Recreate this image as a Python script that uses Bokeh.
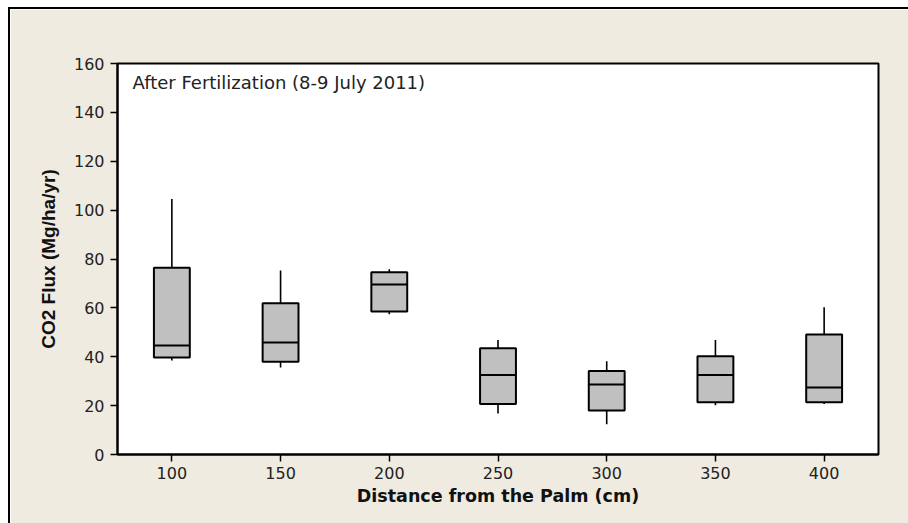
from bokeh.plotting import figure
from bokeh.layouts import column, row
from bokeh.models import Spacer, FixedTicker, Range1d, Label, ColumnDataSource
from bokeh.embed import file_html
from bokeh.resources import INLINE

# ---- data ----
distances = [100, 150, 200, 250, 300, 350, 400]
whisker_low = [38.5, 35.6, 57.4, 16.8, 12.4, 20.2, 20.7]
q1 = [39.7, 38.0, 58.5, 20.7, 18.0, 21.4, 21.4]
median = [44.6, 45.8, 69.6, 32.5, 28.6, 32.5, 27.4]
q3 = [76.4, 61.9, 74.6, 43.5, 34.2, 40.2, 49.1]
whisker_high = [104.6, 75.3, 75.8, 46.9, 38.2, 46.9, 60.3]
x_ticks = [100, 150, 200, 250, 300, 350, 400]
y_ticks = [0, 20, 40, 60, 80, 100, 120, 140, 160]
title_text = "After Fertilization (8-9 July 2011)"
x_label = "Distance from the Palm (cm)"
y_label = "CO2 Flux (Mg/ha/yr)"

BG = "#EFEBE1"
BOX_W = 16.5

src = ColumnDataSource(dict(
    x=distances, lo=whisker_low, q1=q1, med=median, q3=q3, hi=whisker_high,
    mx0=[d - BOX_W / 2 for d in distances], mx1=[d + BOX_W / 2 for d in distances],
))

p = figure(width=898, height=514, output_backend="svg", toolbar_location=None,
           x_range=Range1d(75, 425), y_range=Range1d(0, 160),
           min_border_left=107, min_border_top=54, min_border_right=30,
           min_border_bottom=69)
p.background_fill_color = "white"
p.border_fill_color = BG
p.outline_line_color = "black"
p.outline_line_width = 2
p.xgrid.visible = False
p.ygrid.visible = False

p.segment(x0="x", y0="q3", x1="x", y1="hi", source=src, line_color="black", line_width=1.6)
p.segment(x0="x", y0="lo", x1="x", y1="q1", source=src, line_color="black", line_width=1.6)
p.vbar(x="x", width=BOX_W, bottom="q1", top="q3", source=src,
       fill_color="#C0C0C0", line_color="black", line_width=2)
p.segment(x0="mx0", y0="med", x1="mx1", y1="med", source=src, line_color="black", line_width=2)

for ax in (p.xaxis, p.yaxis):
    ax.axis_line_color = "black"
    ax.axis_line_width = 2
    ax.major_tick_line_color = "black"
    ax.major_tick_line_width = 1.5
    ax.major_tick_in = 0
    ax.major_tick_out = 7
    ax.minor_tick_line_color = None
    ax.major_label_text_font = "DejaVu Sans"
    ax.major_label_text_font_size = "16px"
    ax.major_label_text_color = "#222222"

p.xaxis.ticker = FixedTicker(ticks=x_ticks)
p.yaxis.ticker = FixedTicker(ticks=y_ticks)
p.xaxis.major_label_standoff = 5
p.yaxis.major_label_standoff = 6

p.xaxis.axis_label = x_label
p.xaxis.axis_label_text_font = "DejaVu Sans"
p.xaxis.axis_label_text_font_style = "bold"
p.xaxis.axis_label_text_font_size = "17.5px"
p.xaxis.axis_label_text_color = "#111111"
p.xaxis.axis_label_standoff = 4

p.yaxis.axis_label = y_label
p.yaxis.axis_label_text_font = "Liberation Sans"
p.yaxis.axis_label_text_font_style = "bold"
p.yaxis.axis_label_text_font_size = "19px"
p.yaxis.axis_label_text_color = "#111111"
p.yaxis.axis_label_standoff = 12

p.add_layout(Label(x=81.9, y=152.3, text=title_text, text_font="DejaVu Sans",
                   text_font_size="18px", text_color="#222222",
                   text_baseline="alphabetic"))

top_gap = Spacer(width=908, height=7)
top_line = row(Spacer(width=8, height=2), Spacer(width=900, height=2, styles={"background-color": "black"}))
body = row(Spacer(width=8, height=514), Spacer(width=2, height=514, styles={"background-color": "black"}), p)
layout = column(top_gap, top_line, body)

open("out.html", "w").write(file_html(layout, INLINE))
